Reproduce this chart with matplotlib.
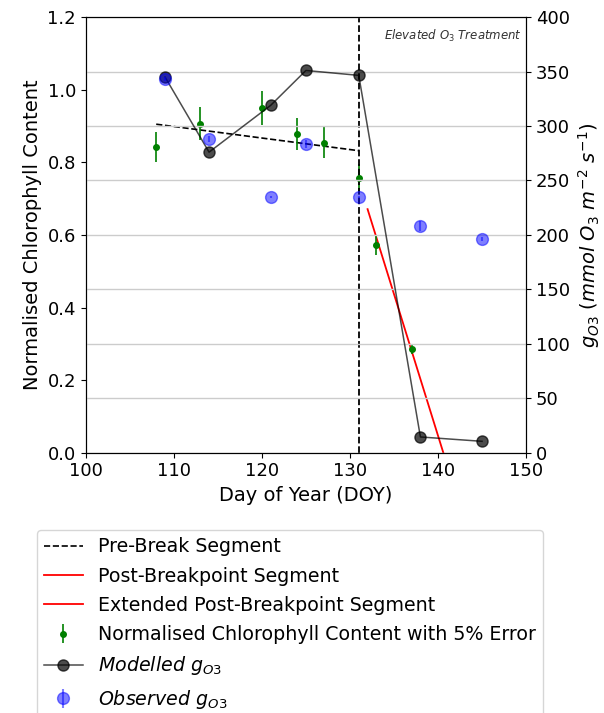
import matplotlib.pyplot as plt
import numpy as np

# chlorophyll data (left axis)
doy_chl = [108, 113, 120, 124, 127, 131, 133, 137]
chl = [0.842, 0.906, 0.950, 0.878, 0.854, 0.758, 0.572, 0.286]
chl_err = [c * 0.05 for c in chl]

# piecewise fit segments
pre_x = [108, 131]
pre_y = [0.905, 0.832]
post_x = [132, 137]
post_y = [0.671, 0.281]
ext_x = [137, 145]
ext_y = [0.281, -0.343]

# stomatal conductance (right axis)
doy_g = [109, 114, 121, 125, 131, 138, 145]
g_mod = [345, 276, 319, 351, 346.5, 14.5, 10.5]
g_obs = [343, 288, 235, 283.5, 234.5, 208.5, 196]
g_obs_err = [2, 3, 1, 4, 1, 4.5, 2]

breakpoint_doy = 131

fig = plt.figure(figsize=(6.04, 7.13), dpi=100)
ax = fig.add_axes([0.142, 0.365, 0.729, 0.611])
ax2 = ax.twinx()

h1, = ax.plot(pre_x, pre_y, 'k--', lw=1.2, label='Pre-Break Segment')
h2, = ax.plot(post_x, post_y, color='red', lw=1.3, label='Post-Breakpoint Segment')
h3, = ax.plot(ext_x, ext_y, color='red', lw=1.3, label='Extended Post-Breakpoint Segment')
h4 = ax.errorbar(doy_chl, chl, yerr=chl_err, fmt='o', color='green', ms=4,
                 elinewidth=1.2, label='Normalised Chlorophyll Content with 5% Error')
ax.axvline(breakpoint_doy, color='black', ls='--', lw=1.3)
ax.text(0.99, 0.975, 'Elevated O$_3$ Treatment', transform=ax.transAxes,
        ha='right', va='top', fontsize=8.5, style='italic', color='#333333')

ax.set_xlim(100, 150)
ax.set_ylim(0, 1.2)
ax.set_xlabel('Day of Year (DOY)', fontsize=14)
ax.set_ylabel('Normalised Chlorophyll Content', fontsize=14)
ax.tick_params(labelsize=13)

h5, = ax2.plot(doy_g, g_mod, '-o', color='black', alpha=0.7, ms=8, lw=1.1,
               label='$Modelled\\ g_{O3}$')
h6 = ax2.errorbar(doy_g, g_obs, yerr=g_obs_err, fmt='o', color='blue', alpha=0.5,
                  ms=8.5, label='$Observed\\ g_{O3}$')
ax2.set_ylim(0, 400)
ax2.set_ylabel('$g_{O3}\\ (mmol\\ O_3\\ m^{-2}\\ s^{-1})$', fontsize=14)
ax2.tick_params(labelsize=13)
ax2.grid(axis='y', color='#cccccc', lw=1)

fig.legend(handles=[h1, h2, h3, h4, h5, h6], loc='upper left',
           bbox_to_anchor=(0.061, 0.257), borderaxespad=0, fontsize=13.7,
           labelspacing=0.54)

fig.savefig('out.png', dpi=100)
